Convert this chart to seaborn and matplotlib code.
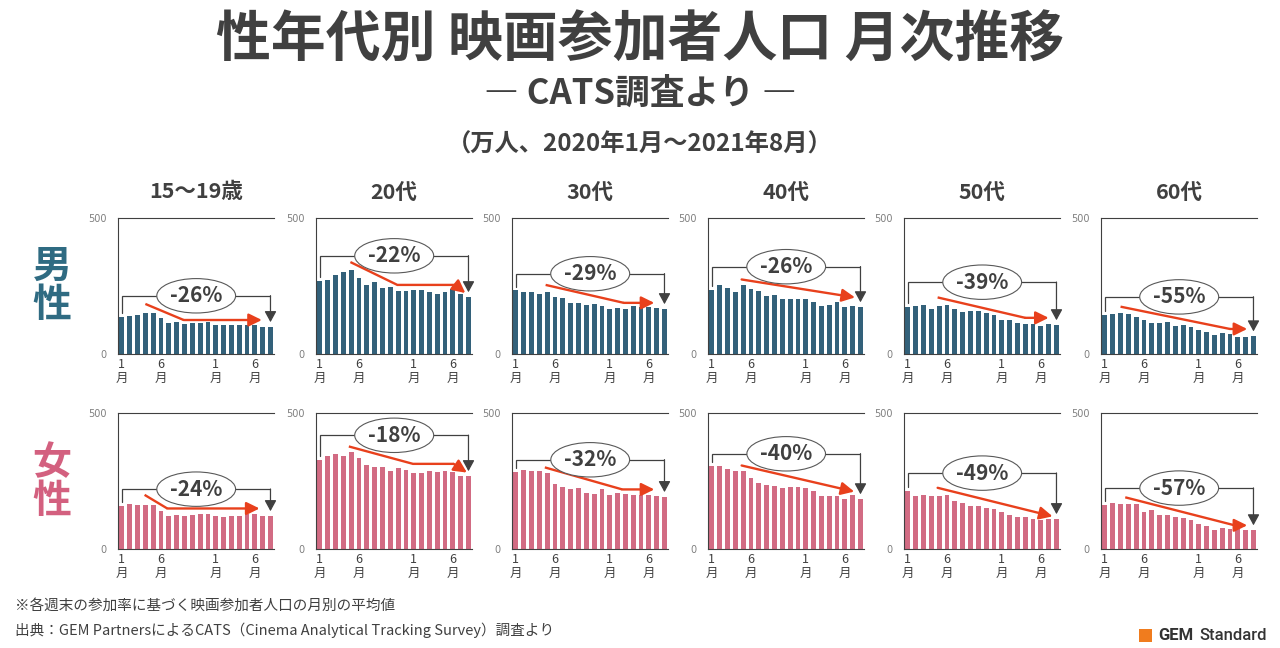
import numpy as np
import pandas as pd
import matplotlib
matplotlib.use("Agg")
import matplotlib.pyplot as plt
from matplotlib.patches import Rectangle
import seaborn as sns

# ---------------- data ----------------
months = [f"2020-{m:02d}" for m in range(1, 13)] + [f"2021-{m:02d}" for m in range(1, 9)]
tick_pos = [0, 5, 12, 17]
tick_labels = ["1\n月", "6\n月", "1\n月", "6\n月"]

age_groups = ["15〜19歳", "20代", "30代", "40代", "50代", "60代"]

m_teen = [136, 140, 144, 151, 151, 133, 114, 118, 111, 114, 114, 118, 107, 107, 107, 107, 107, 107, 100, 100]
m_20s = [269, 273, 291, 302, 310, 280, 254, 265, 243, 247, 232, 232, 236, 236, 228, 221, 228, 240, 221, 210]
m_30s = [234, 229, 229, 221, 229, 210, 206, 188, 188, 181, 184, 177, 166, 170, 166, 177, 173, 173, 170, 166]
m_40s = [236, 254, 243, 228, 254, 240, 232, 214, 217, 203, 203, 203, 203, 192, 177, 181, 192, 173, 177, 173]
m_50s = [173, 177, 181, 166, 177, 181, 166, 155, 158, 158, 151, 144, 125, 125, 114, 111, 111, 103, 111, 107]
m_60s = [144, 147, 151, 147, 136, 125, 114, 114, 118, 103, 107, 100, 88, 81, 70, 77, 74, 63, 63, 66]

f_teen = [158, 166, 162, 162, 162, 140, 122, 125, 122, 125, 129, 129, 122, 118, 122, 122, 129, 129, 122, 122]
f_20s = [328, 343, 350, 343, 357, 335, 310, 302, 302, 287, 299, 291, 280, 280, 287, 284, 287, 284, 269, 269]
f_30s = [284, 291, 287, 287, 280, 240, 228, 221, 225, 206, 203, 221, 199, 206, 203, 199, 199, 199, 195, 192]
f_40s = [306, 306, 295, 287, 287, 262, 243, 236, 232, 225, 228, 228, 225, 214, 195, 195, 195, 184, 199, 184]
f_50s = [214, 195, 199, 195, 195, 199, 177, 170, 158, 158, 151, 147, 136, 125, 118, 118, 111, 107, 111, 111]
f_60s = [162, 170, 166, 166, 166, 136, 144, 125, 125, 118, 114, 107, 92, 85, 70, 77, 74, 74, 70, 70]

male_series = [m_teen, m_20s, m_30s, m_40s, m_50s, m_60s]
female_series = [f_teen, f_20s, f_30s, f_40s, f_50s, f_60s]

male_pct = ["-26%", "-22%", "-29%", "-26%", "-39%", "-55%"]
female_pct = ["-24%", "-18%", "-32%", "-40%", "-49%", "-57%"]

# annotation geometry (bracket heights and trend arrows, data units)
male_bracket = [214, 361, 295, 321, 264, 210]
female_bracket = [220, 418, 328, 350, 279, 224]
male_trend = [
    [(3.0, 184), (7.9, 125), (17.9, 125)],
    [(3.9, 338), (9.9, 254), (17.3, 254), (18.6, 224)],
    [(3.8, 254), (13.8, 188), (17.7, 188)],
    [(3.8, 274), (18.3, 208)],
    [(3.8, 208), (15.0, 133), (18.0, 133)],
    [(2.0, 174), (16.0, 92), (18.2, 92)],
]
female_trend = [
    [(2.9, 199), (5.8, 149), (17.6, 149)],
    [(3.7, 377), (11.9, 313), (17.1, 313), (18.8, 281)],
    [(3.7, 300), (13.6, 219), (17.7, 219)],
    [(3.8, 307), (18.2, 211)],
    [(3.8, 225), (18.5, 120)],
    [(2.6, 190), (16.6, 87), (18.2, 87)],
]

# ---------------- style ----------------
sns.set_theme(style="white")
plt.rcParams["font.family"] = ["Noto Sans CJK JP", "DejaVu Sans"]

DARK = "#404040"
MALE_C = "#33617a"
FEMALE_C = "#d26b83"
MALE_LABEL_C = "#2f6b82"
FEMALE_LABEL_C = "#d3607f"
RED = "#e8401c"

W, H = 1280, 648
fig = plt.figure(figsize=(12.8, 6.48), dpi=100)
fig.patch.set_facecolor("white")

lefts_px = [118, 316, 512, 708, 904, 1101]
ax_w_px = 156
rows = [
    dict(series=male_series, pct=male_pct, bracket=male_bracket, trend=male_trend,
         color=MALE_C, top=218, bottom=354),
    dict(series=female_series, pct=female_pct, bracket=female_bracket, trend=female_trend,
         color=FEMALE_C, top=413, bottom=549),
]

for r, row in enumerate(rows):
    for c in range(6):
        vals = row["series"][c]
        l = lefts_px[c] / W
        b = 1 - row["bottom"] / H
        h = (row["bottom"] - row["top"]) / H
        ax = fig.add_axes([l, b, ax_w_px / W, h])
        df = pd.DataFrame({"month": months, "value": vals})
        sns.barplot(data=df, x="month", y="value", ax=ax, color=row["color"],
                    width=0.62, saturation=1, order=months, linewidth=0,
                    edgecolor="none")
        ax.set_xlim(-0.5, 19.45)
        ax.set_ylim(0, 500)
        ax.set_xlabel("")
        ax.set_ylabel("")
        ax.set_yticks([0, 500])
        ax.set_yticklabels(["0", "500"], fontsize=7, color="#7f7f7f",
                           family=["DejaVu Sans"])
        ax.set_xticks(tick_pos)
        ax.set_xticklabels(tick_labels, fontsize=9, color=DARK, linespacing=1.1)
        ax.tick_params(axis="both", length=0, pad=3)
        ax.tick_params(axis="y", pad=8)
        for side in ["left", "bottom", "top"]:
            ax.spines[side].set_visible(True)
            ax.spines[side].set_color("#404040")
            ax.spines[side].set_linewidth(0.8)
        ax.spines["right"].set_visible(False)
        ax.grid(False)

        # bracket
        bh = row["bracket"][c]
        x0, x1 = 0, len(vals) - 1
        y_left = vals[0] + 14
        y_tip = vals[-1] + 17
        ax.plot([x0, x0, x1], [y_left, bh, bh], color=DARK, lw=0.9,
                solid_joinstyle="miter", zorder=4)
        ax.annotate("", xy=(x1, y_tip), xytext=(x1, bh + 0.5),
                    arrowprops=dict(arrowstyle="-|>,head_length=0.55,head_width=0.3",
                                    color=DARK, lw=0.9, shrinkA=0, shrinkB=0,
                                    mutation_scale=12), zorder=4)
        ax.text(9.5, bh, row["pct"][c], ha="center", va="center", fontsize=15,
                color=DARK, fontweight="bold", family=["Noto Sans CJK JP"], zorder=6,
                bbox=dict(boxstyle="ellipse,pad=0.08", fc="white", ec="#595959", lw=0.8))

        # trend arrow
        pts = row["trend"][c]
        xs = [p[0] for p in pts]
        ys = [p[1] for p in pts]
        if len(pts) > 2:
            ax.plot(xs[:-1], ys[:-1], color=RED, lw=1.7, solid_joinstyle="miter",
                    solid_capstyle="butt", zorder=5)
        ax.annotate("", xy=(xs[-1], ys[-1]), xytext=(xs[-2], ys[-2]),
                    arrowprops=dict(arrowstyle="-|>,head_length=0.65,head_width=0.32",
                                    color=RED, lw=1.7, shrinkA=0, shrinkB=0,
                                    mutation_scale=12), zorder=5)

# column titles
for c, g in enumerate(age_groups):
    xc = (lefts_px[c] + ax_w_px / 2) / W
    fig.text(xc, 1 - 192 / H, g, ha="center", va="center", fontsize=15.5,
             fontweight="bold", color=DARK)

# row labels
fig.text(52 / W, 1 - 286 / H, "男\n性", ha="center", va="center", fontsize=28,
         fontweight="bold", color=MALE_LABEL_C, linespacing=0.98)
fig.text(52 / W, 1 - 482 / H, "女\n性", ha="center", va="center", fontsize=28,
         fontweight="bold", color=FEMALE_LABEL_C, linespacing=0.98)

# titles
fig.text(0.5, 1 - 40 / H, "性年代別 映画参加者人口 月次推移", ha="center", va="center",
         fontsize=39.5, fontweight="bold", color=DARK)
fig.text(0.5, 1 - 93 / H, "― CATS調査より ―", ha="center", va="center",
         fontsize=25, fontweight="bold", color=DARK)
fig.text(0.5, 1 - 145 / H, "（万人、2020年1月～2021年8月）", ha="center", va="center",
         fontsize=17.5, fontweight="bold", color=DARK)

# footnotes
fig.text(15 / W, 1 - 606 / H, "※各週末の参加率に基づく映画参加者人口の月別の平均値",
         ha="left", va="center", fontsize=10.5, color=DARK)
fig.text(15 / W, 1 - 630 / H,
         "出典：GEM PartnersによるCATS（Cinema Analytical Tracking Survey）調査より",
         ha="left", va="center", fontsize=10.5, color=DARK)

# logo
fig.add_artist(Rectangle((1139 / W, 1 - 642 / H), 13 / W, 13 / H,
                         transform=fig.transFigure, fc="#f07c1e", ec="none"))
fig.text(1158 / W, 1 - 635 / H, "GEM", ha="left", va="center", fontsize=12,
         fontweight="bold", color="#333333", family=["Roboto", "DejaVu Sans"])
fig.text(1199 / W, 1 - 635 / H, "Standard", ha="left", va="center", fontsize=12,
         fontweight="medium", color="#333333", family=["Roboto", "DejaVu Sans"])

fig.savefig("out.png", dpi=100, facecolor="white")
